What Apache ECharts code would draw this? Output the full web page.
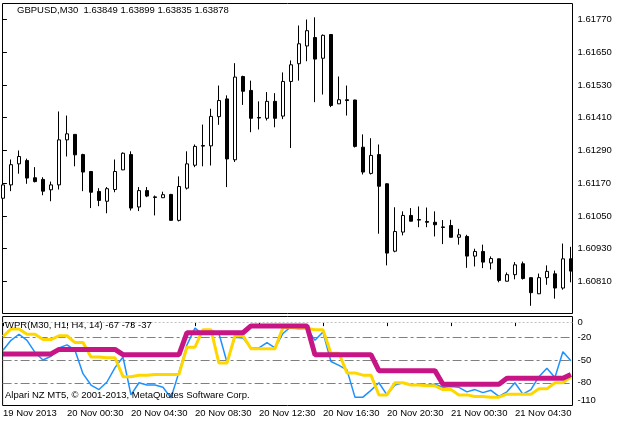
<!DOCTYPE html>
<html><head><meta charset="utf-8">
<script src="https://cdn.jsdelivr.net/npm/echarts@6/dist/echarts.min.js"></script>
<style>html,body{margin:0;padding:0;background:#fff}#c{width:621px;height:423px}</style>
</head><body><div id="c"></div>
<script>
// ---- data ----
const timeLabels = ["19 Nov 2013", "20 Nov 00:30", "20 Nov 04:30", "20 Nov 08:30", "20 Nov 12:30", "20 Nov 16:30", "20 Nov 20:30", "21 Nov 00:30", "21 Nov 04:30"];
const labelStep = 8; // one time label every 8 bars (4 hours of M30)

const open = [1.61115,1.61164,1.61241,1.61253,1.61190,1.61184,1.61146,1.61164,1.61329,1.61349,
1.61275,1.61213,1.61140,1.61104,1.61147,1.61219,1.61275,1.61083,1.61143,1.61120,
1.61117,1.61129,1.61034,1.61152,1.61236,1.61308,1.61307,1.61414,1.61479,1.61256,
1.61561,1.61510,1.61411,1.61408,1.61470,1.61416,1.61543,1.61608,1.61673,1.61704,
1.61628,1.61715,1.61461,1.61476,1.61475,1.61302,1.61206,1.61275,1.61168,1.60921,
1.60991,1.61052,1.61037,1.61030,1.61027,1.61010,1.61015,1.60972,1.60975,1.60903,
1.60920,1.60878,1.60893,1.60811,1.60835,1.60875,1.60824,1.60765,1.60824,1.60838,
1.60786,1.60893];
const high = [1.61173,1.61257,1.61290,1.61260,1.61229,1.61192,1.61176,1.61433,1.61418,1.61350,
1.61278,1.61215,1.61152,1.61156,1.61257,1.61283,1.61287,1.61156,1.61156,1.61125,
1.61139,1.61131,1.61195,1.61287,1.61312,1.61385,1.61443,1.61528,1.61492,1.61610,
1.61564,1.61546,1.61470,1.61504,1.61500,1.61576,1.61620,1.61748,1.61770,1.61778,
1.61715,1.61716,1.61561,1.61528,1.61476,1.61349,1.61335,1.61312,1.61170,1.61082,
1.61067,1.61079,1.61085,1.61081,1.61067,1.61035,1.61036,1.61003,1.60981,1.60930,
1.60945,1.60902,1.60894,1.60843,1.60881,1.60883,1.60825,1.60839,1.60869,1.60850,
1.60949,1.60937];
const low = [1.61110,1.61141,1.61205,1.61168,1.61173,1.61126,1.61104,1.61147,1.61268,1.61232,
1.61141,1.61079,1.61086,1.61060,1.61137,1.61218,1.61070,1.61068,1.61119,1.61052,
1.61116,1.61032,1.61030,1.61147,1.61229,1.61232,1.61235,1.61384,1.61156,1.61248,
1.61457,1.61357,1.61367,1.61400,1.61375,1.61405,1.61299,1.61546,1.61617,1.61467,
1.61495,1.61449,1.61460,1.61418,1.61301,1.61202,1.61202,1.60985,1.60869,1.60917,
1.60979,1.61030,1.61009,1.61009,1.60975,1.60947,1.60971,1.60945,1.60860,1.60865,
1.60859,1.60854,1.60807,1.60810,1.60818,1.60817,1.60721,1.60764,1.60798,1.60747,
1.60780,1.60807];
const close = [1.61164,1.61238,1.61268,1.61189,1.61176,1.61141,1.61164,1.61329,1.61351,1.61274,
1.61211,1.61137,1.61107,1.61150,1.61213,1.61280,1.61079,1.61143,1.61123,1.61118,
1.61128,1.61034,1.61158,1.61241,1.61305,1.61306,1.61415,1.61473,1.61259,1.61559,
1.61507,1.61408,1.61409,1.61470,1.61408,1.61543,1.61604,1.61681,1.61729,1.61625,
1.61712,1.61455,1.61476,1.61473,1.61305,1.61211,1.61272,1.61159,1.60914,1.60993,
1.61052,1.61031,1.61035,1.61027,1.61018,1.61008,1.60972,1.60981,1.60903,1.60920,
1.60881,1.60894,1.60814,1.60835,1.60871,1.60821,1.60769,1.60824,1.60847,1.60786,
1.60893,1.60848];

const wprM30 = [-37,-24,-16,-24,-40,-50,-45,-34,-30,-37,
-68,-83,-89,-79,-60,-46,-96,-80,-83,-83,
-86,-100,-66,-30,-8,-16,-11,-15,-53,-20,
-21,-34,-34,-27,-34,-15,-6,-9,-8,-24,
-13,-52,-57,-63,-99,-99,-90,-80,-96,-83,
-80,-83,-83,-83,-82,-86,-85,-86,-92,-89,
-93,-90,-98,-92,-80,-95,-89,-72,-61,-73,
-39,-51];
const wprH1 = [-19,-9,-9,-16,-16,-23,-23,-18,-18,-27,
-27,-46,-46,-47,-47,-72,-72,-70,-70,-69,
-69,-69,-69,-33,-33,-10,-10,-54,-54,-18,
-18,-35,-35,-35,-35,-7,-7,-8,-8,-10,
-10,-41,-41,-67,-67,-70,-70,-96,-96,-80,
-80,-83,-83,-84,-84,-89,-89,-96,-96,-98,
-98,-99,-99,-95,-95,-95,-95,-88,-88,-80,
-80,-72];
const wprH4 = [-42,-42,-42,-42,-42,-42,-42,-36,-36,-36,
-36,-36,-36,-36,-36,-43,-43,-43,-43,-43,
-43,-43,-43,-14,-14,-14,-14,-14,-14,-14,
-14,-5,-5,-5,-5,-5,-5,-5,-5,-43,
-43,-43,-43,-43,-43,-43,-43,-64,-64,-64,
-64,-64,-64,-64,-64,-82,-82,-82,-82,-82,
-82,-82,-82,-74,-74,-74,-74,-74,-74,-74,
-74,-69];

const priceTicks = [1.60810,1.60930,1.61050,1.61170,1.61290,1.61410,1.61530,1.61650,1.61770];
const wprTicks = [0,-20,-50,-80,-110];
const wprLevels = [-20,-50,-80];
const wprZeroLevel = 0;

const titleText = "GBPUSD,M30  1.63849 1.63899 1.63835 1.63878";
const indText = "WPR(M30, H1, H4, 14) -67 -73 -37";
const copyText = "Alpari NZ MT5, \u00A9 2001-2013, MetaQuotes Software Corp.";

// ---- build ----
const FONT = "'Liberation Sans', Arial, sans-serif";
const FS = 9.5;
const candles = open.map((o, i) => [i, o, close[i], low[i], high[i]]);
const idx = (arr) => arr.map((v, i) => [i, v]);
const tickPos = timeLabels.map((_, k) => k * labelStep);

const xMin = -0.05, xMax = 71.2;

const chart = echarts.init(document.getElementById('c'), null, {renderer: 'canvas'});
chart.setOption({
  animation: false,
  backgroundColor: '#fff',
  grid: [
    {left: 2.5, top: 3.5, width: 570, height: 310, show: true, borderColor: '#000', borderWidth: 1, backgroundColor: '#fff'},
    {left: 2.5, top: 316.5, width: 570, height: 89, show: true, borderColor: '#000', borderWidth: 1, backgroundColor: '#fff'}
  ],
  xAxis: [
    {type: 'value', gridIndex: 0, min: xMin, max: xMax, show: false},
    {type: 'value', gridIndex: 1, min: xMin, max: xMax,
      axisLine: {show: false},
      splitLine: {show: false},
      axisTick: {show: true, customValues: tickPos, length: 4, lineStyle: {color: '#000', width: 1}},
      axisLabel: {customValues: tickPos, align: 'left', margin: 3, color: '#000', fontSize: FS, fontFamily: FONT,
        formatter: (v) => timeLabels[Math.round(v / labelStep)] || ''}
    }
  ],
  yAxis: [
    {type: 'value', gridIndex: 0, position: 'right', min: 1.606927, max: 1.618286,
      axisLine: {show: false}, splitLine: {show: false},
      axisTick: {show: true, customValues: priceTicks, length: 4, lineStyle: {color: '#000'}},
      axisLabel: {customValues: priceTicks, margin: 5, color: '#000', fontSize: FS, fontFamily: FONT,
        formatter: (v) => v.toFixed(5)}
    },
    {type: 'value', gridIndex: 1, position: 'right', min: -110, max: 7.4,
      axisLine: {show: false}, splitLine: {show: false},
      axisTick: {show: true, customValues: wprTicks, length: 4, lineStyle: {color: '#000'}},
      axisLabel: {customValues: wprTicks, margin: 5, color: '#000', fontSize: FS, fontFamily: FONT,
        formatter: (v) => v === wprTicks[wprTicks.length - 1] ? '{low|' + v + '}' : String(v),
        rich: {low: {padding: [0, 0, 10, 0], fontSize: FS, fontFamily: FONT, color: '#000'}}}
    }
  ],
  series: [
    {type: 'candlestick', xAxisIndex: 0, yAxisIndex: 0, data: candles, barWidth: 4,
      itemStyle: {color: '#fff', color0: '#000', borderColor: '#000', borderColor0: '#000', borderWidth: 1},
      emphasis: {disabled: true}, silent: true},
    {type: 'line', xAxisIndex: 1, yAxisIndex: 1, data: idx(wprM30), symbol: 'none', silent: true,
      lineStyle: {color: '#1E90FF', width: 1.5}, z: 2,
      markLine: {silent: true, z: 1, symbol: ['none', 'none'], label: {show: false},
        data: [{yAxis: wprZeroLevel, lineStyle: {color: '#c0c0c0', type: [2, 2], width: 1}}]
          .concat(wprLevels.map(l => ({yAxis: l, lineStyle: {color: '#808080', type: [9, 3, 3, 3], width: 1}})))}
    },
    {type: 'line', xAxisIndex: 1, yAxisIndex: 1, data: idx(wprH1), symbol: 'none', silent: true,
      lineStyle: {color: '#FFD700', width: 3}, z: 3},
    {type: 'line', xAxisIndex: 1, yAxisIndex: 1, data: idx(wprH4), symbol: 'none', silent: true,
      lineStyle: {color: '#C71585', width: 5}, z: 4}
  ],
  graphic: [
    {type: 'text', x: 17, y: 10, z: 100, style: {text: titleText, fill: '#000', fontSize: FS, fontFamily: FONT, verticalAlign: 'middle'}},
    {type: 'text', x: 5, y: 325, z: 100, style: {text: indText, fill: '#000', fontSize: FS, fontFamily: FONT, verticalAlign: 'middle'}},
    {type: 'text', x: 5, y: 395, z: 100, style: {text: copyText, fill: '#000', fontSize: FS, fontFamily: FONT, verticalAlign: 'middle'}}
  ]
});
</script>
</body></html>
